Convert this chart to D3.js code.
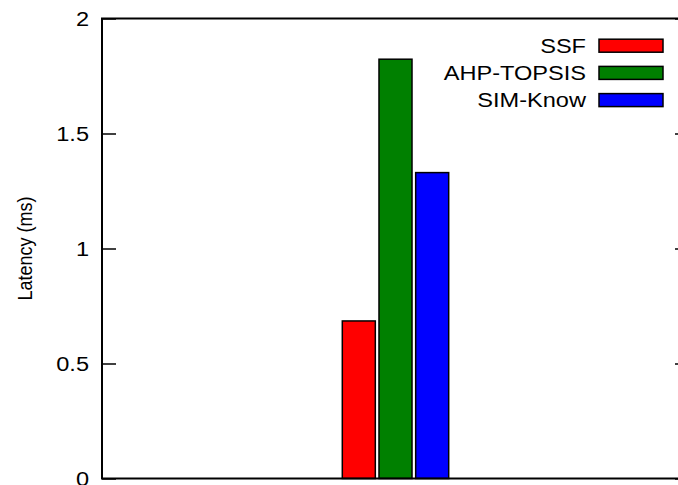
<!DOCTYPE html>
<html>
<head>
<meta charset="utf-8">
<script src="https://cdn.jsdelivr.net/npm/d3@7"></script>
<style>
  html, body { margin: 0; padding: 0; background: #fff; }
  svg { display: block; }
  text { font-family: "Liberation Sans", Arial, Helvetica, sans-serif; fill: #000; }
</style>
</head>
<body>
<svg id="chart" width="678" height="485"></svg>
<script>
// Single benchmark group, three methods
const categories = ["Latency"];
const seriesNames = ["SSF", "AHP-TOPSIS", "SIM-Know"];
const seriesColors = ["#ff0000", "#008000", "#0000ff"];
const latencyMs = [0.685, 1.823, 1.33];
const yTicks = [0, 0.5, 1, 1.5, 2];
const yTickLabels = ["0", "0.5", "1", "1.5", "2"];
const yLabel = "Latency (ms)";

const W = 678, H = 485;
const plot = { left: 102, right: 689, top: 18.5, bottom: 478.5 };
const textStretch = 1.15;   // horizontal stretch of the lettering
const fontSize = 20.5;

const svg = d3.select("#chart");

// Clustered histogram: gap of 5 slots, boxes 0.9 of a slot
const gap = 5, boxFrac = 0.9;
const slot = 1 / (seriesNames.length + gap);

const x = d3.scaleLinear().domain([-1, categories.length]).range([plot.left, plot.right]);
const y = d3.scaleLinear().domain([0, 2]).range([plot.bottom, plot.top]);

// Bars
const bars = [];
categories.forEach((c, ci) => {
  seriesNames.forEach((s, si) => {
    const center = ci - 0.5 + 0 + (si - (seriesNames.length - 1) / 2) * slot + 0.5;
    bars.push({ s, si, center, value: latencyMs[si] });
  });
});

// Center the single group at the middle of the x range
const groupCenterX = (x.domain()[0] + x.domain()[1]) / 2;
svg.append("g")
  .selectAll("rect")
  .data(bars)
  .join("rect")
  .attr("x", d => x(groupCenterX + (d.si - 1) * slot - slot * boxFrac / 2))
  .attr("width", d => x(slot * boxFrac) - x(0))
  .attr("y", d => y(d.value))
  .attr("height", d => y(0) - y(d.value))
  .attr("fill", d => seriesColors[d.si])
  .attr("stroke", "#000")
  .attr("stroke-width", 1.5);

// Left axis with inward ticks
const tickLen = 14;
const yAxisL = d3.axisRight(y).tickValues(yTicks).tickSize(tickLen).tickFormat("");
const gL = svg.append("g").attr("transform", `translate(${plot.left},0)`).call(yAxisL);
gL.select(".domain").remove();
gL.selectAll("line").attr("stroke", "#000").attr("stroke-width", 1.5);

// Right mirror ticks
const yAxisR = d3.axisLeft(y).tickValues(yTicks).tickSize(tickLen).tickFormat("");
const gR = svg.append("g").attr("transform", `translate(${plot.right},0)`).call(yAxisR);
gR.select(".domain").remove();
gR.selectAll("line").attr("stroke", "#000").attr("stroke-width", 1.5);

// Tick labels
svg.append("g")
  .selectAll("text")
  .data(yTicks)
  .join("text")
  .attr("transform", (d) => `translate(${plot.left - 13},${y(d)}) scale(${textStretch},1)`)
  .attr("text-anchor", "end")
  .attr("dy", "0.36em")
  .style("font-size", fontSize + "px")
  .text((d, i) => yTickLabels[i]);

// Frame
svg.append("rect")
  .attr("x", plot.left).attr("y", plot.top)
  .attr("width", plot.right - plot.left).attr("height", plot.bottom - plot.top)
  .attr("fill", "none").attr("stroke", "#000").attr("stroke-width", 2);

// Y axis title
svg.append("text")
  .attr("transform", `translate(32,${(plot.top + plot.bottom) / 2}) scale(${textStretch},1) rotate(-90)`)
  .attr("text-anchor", "middle")
  .style("font-size", "18px")
  .text(yLabel);

// Legend
const legend = { textRight: 586, boxX: 599, boxW: 64, boxH: 13, row0: 45.7, rowStep: 27.2 };
const lg = svg.append("g");
seriesNames.forEach((s, i) => {
  const cy = legend.row0 + i * legend.rowStep;
  lg.append("text")
    .attr("transform", `translate(${legend.textRight},${cy}) scale(${textStretch},1)`)
    .attr("text-anchor", "end")
    .attr("dy", "0.36em")
    .style("font-size", fontSize + "px")
    .text(s);
  lg.append("rect")
    .attr("x", legend.boxX).attr("y", cy - legend.boxH / 2)
    .attr("width", legend.boxW).attr("height", legend.boxH)
    .attr("fill", seriesColors[i]).attr("stroke", "#000").attr("stroke-width", 1.5);
});
</script>
</body>
</html>
